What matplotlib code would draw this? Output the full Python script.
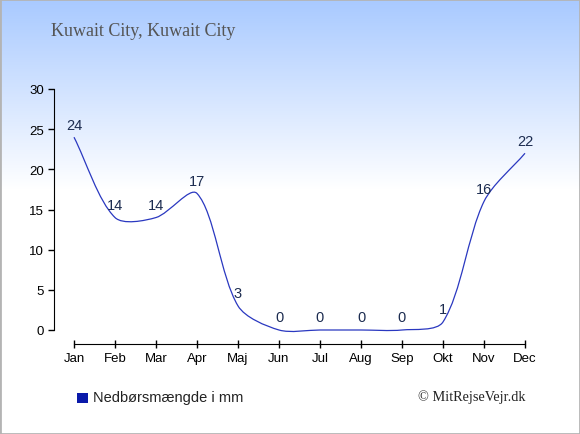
import numpy as np
import matplotlib
matplotlib.use("Agg")
import matplotlib.pyplot as plt
from matplotlib.path import Path
from matplotlib.patches import PathPatch, Rectangle

months = ["Jan", "Feb", "Mar", "Apr", "Maj", "Jun", "Jul", "Aug", "Sep", "Okt", "Nov", "Dec"]
rain = [24, 14, 14, 17, 3, 0, 0, 0, 0, 1, 16, 22]
yticks = [0, 5, 10, 15, 20, 25, 30]
title = "Kuwait City, Kuwait City"
legend_label = "Nedbørsmængde i mm"
credit = "© MitRejseVejr.dk"

line_col = "#2a38c0"
W, H = 580, 435


def spline_path(ax, xs, ys, t=0.3):
    # tension spline worked out in pixel space, then mapped back to data
    pts = ax.transData.transform(np.column_stack([xs, ys]))
    n = len(pts)
    prev_c, next_c = [], []
    for i in range(n):
        cur = pts[i]
        pv = pts[i - 1] if i > 0 else cur
        nx = pts[i + 1] if i < n - 1 else cur
        d01 = np.hypot(*(cur - pv))
        d12 = np.hypot(*(nx - cur))
        tot = d01 + d12
        s01 = d01 / tot if tot else 0
        s12 = d12 / tot if tot else 0
        prev_c.append(cur - t * s01 * (nx - pv))
        next_c.append(cur + t * s12 * (nx - pv))
    verts = [pts[0]]
    codes = [Path.MOVETO]
    for i in range(1, n):
        verts += [next_c[i - 1], prev_c[i], pts[i]]
        codes += [Path.CURVE4] * 3
    verts = ax.transData.inverted().transform(np.array(verts))
    return Path(verts, codes)


fig = plt.figure(figsize=(W / 100, H / 100), dpi=100)

# background gradient + border
bg = fig.add_axes([0, 0, 1, 1])
rows = np.arange(H).reshape(-1, 1)
frac = np.clip(rows / 190.0, 0, 1)
top = np.array([0.66, 0.79, 1.0])
img = top + (1 - top) * frac[:, :, None]
bg.imshow(img, aspect="auto", extent=[0, 1, 0, 1], origin="upper")
bg.add_patch(Rectangle((0, 0), 1, 1, fill=False, edgecolor="#b4b4b4", lw=2,
                       transform=bg.transAxes))
bg.set_xlim(0, 1)
bg.set_ylim(0, 1)
bg.axis("off")

fig.text(51 / W, 1 - 32 / H, title, family="Liberation Serif", fontsize=13,
         color="#555555", va="center", ha="left")

# data axes
left_px, right_px = 54, 525
x0_px = 74
scale = (right_px - x0_px) / 11
ax = fig.add_axes([left_px / W, (H - 331) / H, (right_px - left_px) / W, (331 - 90) / H])
ax.patch.set_alpha(0)
ax.set_xlim(-(x0_px - left_px) / scale, 11)
ax.set_ylim(0, 30)

x = list(range(len(rain)))
ax.add_patch(PathPatch(spline_path(ax, x, rain), fill=False, edgecolor=line_col,
                       lw=0.9, clip_on=False))

for xi, yi in zip(x, rain):
    ax.annotate(str(yi), (xi, yi), xytext=(0, 4), textcoords="offset points",
                ha="center", va="bottom", fontsize=10.5, color="#1c2c50",
                family="Liberation Sans")

for s in ["top", "right"]:
    ax.spines[s].set_visible(False)
ax.spines["left"].set_bounds(0, 30)
ax.spines["bottom"].set_position(("outward", 10))
ax.spines["bottom"].set_bounds(0, 11)
ax.set_xticks(x)
ax.set_xticklabels(months)
ax.set_yticks(yticks)
ax.tick_params(axis="y", direction="out", length=4, width=1, labelsize=9.5, pad=3)
ax.tick_params(axis="x", direction="inout", length=6, width=1, labelsize=9.5, pad=3)
for lab in ax.get_xticklabels() + ax.get_yticklabels():
    lab.set_family("Liberation Sans")

# legend and credit
fig.patches.append(Rectangle((77 / W, 1 - 404 / H), 11 / W, 10 / H, facecolor="#0a1aaa",
                             edgecolor="none", transform=fig.transFigure))
fig.text(93 / W, 1 - 398 / H, legend_label, family="Liberation Sans", fontsize=10.5,
         color="#222222", va="center", ha="left")
fig.text(526 / W, 1 - 397 / H, credit, family="Liberation Serif", fontsize=10.3,
         color="#222222", va="center", ha="right")

fig.savefig("out.png", dpi=100)
